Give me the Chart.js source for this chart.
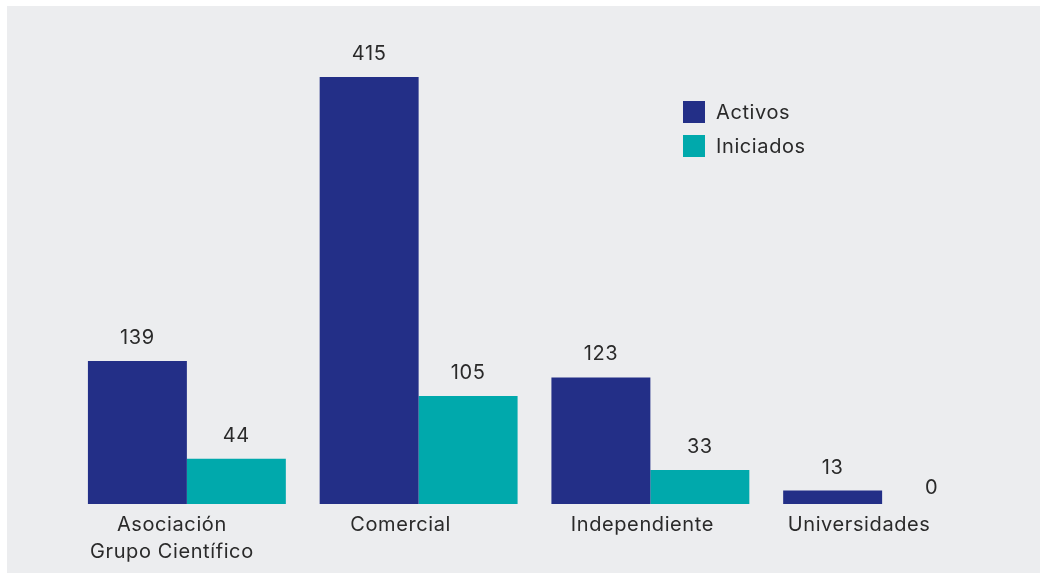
<!DOCTYPE html>
<html>
<head>
<meta charset="utf-8">
<script src="https://cdn.jsdelivr.net/npm/chart.js@4"></script>
<style>
html,body{margin:0;padding:0;background:#ffffff;}
#wrap{position:relative;width:1040px;height:573px;}
</style>
</head>
<body>
<div id="wrap"><canvas id="c" width="1040" height="573"></canvas></div>
<script>
const categories = [["Asociación","Grupo Científico"], "Comercial", "Independiente", "Universidades"];
const activos = [139, 415, 123, 13];
const iniciados = [44, 105, 33, 0];
const seriesNames = ["Activos", "Iniciados"];
const colors = ["#232f87", "#00a9ac"];

const FONT = "Inter, 'Open Sans', sans-serif";
const TEXT = "#2a2a2a";

const bgPlugin = {
  id: 'bg',
  beforeDraw(chart) {
    const ctx = chart.ctx;
    ctx.save();
    ctx.fillStyle = '#ffffff';
    ctx.fillRect(0, 0, chart.width, chart.height);
    ctx.fillStyle = '#ecedef';
    ctx.fillRect(7, 6, chart.width - 7, chart.height - 6);
    ctx.restore();
  }
};

const labelPlugin = {
  id: 'labels',
  afterDatasetsDraw(chart) {
    const ctx = chart.ctx;
    ctx.save();
    ctx.font = "20px " + FONT;
    if ('letterSpacing' in ctx) ctx.letterSpacing = '0.6px';
    ctx.fillStyle = TEXT;
    ctx.textAlign = 'center';
    ctx.textBaseline = 'middle';
    chart.data.datasets.forEach((ds, di) => {
      const meta = chart.getDatasetMeta(di);
      meta.data.forEach((bar, i) => {
        const v = ds.data[i];
        const off = v === 0 ? 16 : 23;
        ctx.fillText(String(v), bar.x, bar.y - off);
      });
    });
    // category labels
    const xs = chart.scales.x;
    const shifts = [-15, -18, -8, -23];
    categories.forEach((c, i) => {
      const lines = Array.isArray(c) ? c : [c];
      const x = xs.getPixelForValue(i) + shifts[i];
      lines.forEach((ln, k) => {
        ctx.fillText(ln, x, 525 + k * 27);
      });
    });
    // legend
    chart.data.datasets.forEach((ds, di) => {
      const y = 101 + di * 34;
      ctx.fillStyle = ds.backgroundColor;
      ctx.fillRect(683, y, 22, 22);
      ctx.fillStyle = TEXT;
      ctx.textAlign = 'left';
      ctx.fillText(ds.label, 716, y + 12);
    });
    ctx.restore();
  }
};

new Chart(document.getElementById('c'), {
  type: 'bar',
  data: {
    labels: categories,
    datasets: [
      { label: seriesNames[0], data: activos, backgroundColor: colors[0], borderWidth: 0 },
      { label: seriesNames[1], data: iniciados, backgroundColor: colors[1], borderWidth: 0 }
    ]
  },
  options: {
    responsive: false,
    animation: false,
    devicePixelRatio: 1,
    layout: { padding: { left: 71, right: 42, top: 77, bottom: 69 } },
    categoryPercentage: 0.854,
    barPercentage: 1,
    plugins: { legend: { display: false }, tooltip: { enabled: false } },
    scales: {
      x: { display: false },
      y: { display: false, min: 0, max: 415 }
    }
  },
  plugins: [bgPlugin, labelPlugin]
});
</script>
</body>
</html>
